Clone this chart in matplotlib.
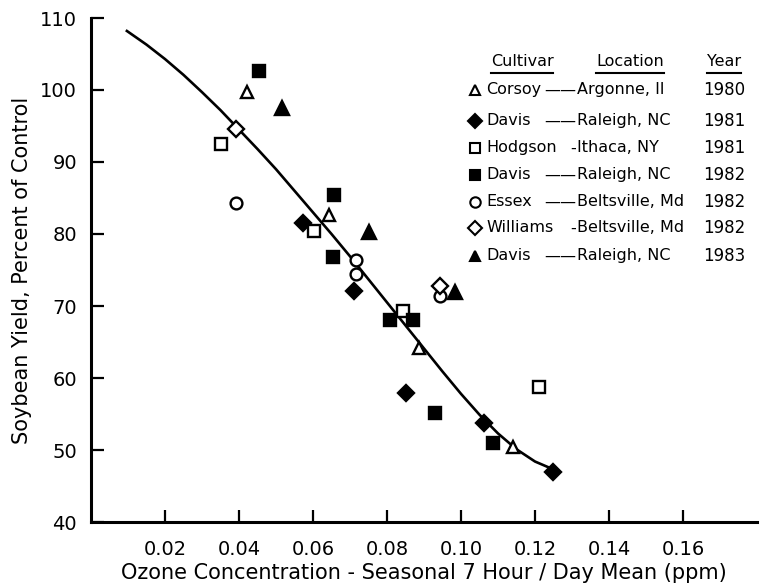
import matplotlib
matplotlib.use("Agg")
import matplotlib.pyplot as plt
from matplotlib.lines import Line2D

plt.rcParams['font.family'] = ['DejaVu Sans']

# data: x = ozone (ppm), y = yield (% of control)
corsoy_x = [0.0422, 0.0643, 0.0886, 0.1140]
corsoy_y = [99.7, 82.6, 64.2, 50.4]
davis81_x = [0.0573, 0.0711, 0.0851, 0.1062, 0.1249]
davis81_y = [81.5, 72.1, 57.9, 53.8, 46.9]
hodgson_x = [0.0351, 0.0603, 0.0843, 0.1210]
hodgson_y = [92.5, 80.4, 69.3, 58.8]
davis82_x = [0.0454, 0.0657, 0.0654, 0.0808, 0.0870, 0.0930, 0.1086]
davis82_y = [102.6, 85.4, 76.8, 68.1, 68.1, 55.1, 51.0]
essex_x = [0.0392, 0.0716, 0.0716, 0.0943]
essex_y = [84.3, 76.4, 74.4, 71.4]
williams_x = [0.0392, 0.0943]
williams_y = [94.6, 72.8]
davis83_x = [0.0516, 0.0751, 0.0984]
davis83_y = [97.5, 80.3, 71.9]

# fitted curve, points
curve_x = [0.0097, 0.015, 0.020, 0.025, 0.030, 0.035, 0.040, 0.045, 0.050, 0.055,
           0.060, 0.065, 0.070, 0.075, 0.080, 0.085, 0.090, 0.095, 0.100, 0.105,
           0.110, 0.115, 0.120, 0.125]
curve_y = [108.2, 106.3, 104.3, 102.1, 99.7, 97.2, 94.5, 91.8, 89.0, 86.0,
           83.0, 80.0, 76.9, 73.7, 70.5, 67.3, 64.1, 60.9, 57.8, 54.9,
           52.3, 50.1, 48.4, 47.3]

legend_rows = [
    ('^', 'white', 'Corsoy', '\u2014\u2014', 'Argonne, Il', '1980'),
    ('D', 'black', 'Davis', '\u2014\u2014', 'Raleigh, NC', '1981'),
    ('s', 'white', 'Hodgson', '-', 'Ithaca, NY', '1981'),
    ('s', 'black', 'Davis', '\u2014\u2014', 'Raleigh, NC', '1982'),
    ('o', 'white', 'Essex', '\u2014\u2014', 'Beltsville, Md', '1982'),
    ('D', 'white', 'Williams', '-', 'Beltsville, Md', '1982'),
    ('^', 'black', 'Davis', '\u2014\u2014', 'Raleigh, NC', '1983'),
]

fig = plt.figure(figsize=(7.6, 5.85), dpi=100)
ax = fig.add_axes([91 / 760, 63 / 585, 666 / 760, 504 / 585])

ax.plot(curve_x, curve_y, color='black', lw=1.9, zorder=2, solid_joinstyle='round')

series = [
    (corsoy_x, corsoy_y, '^', 'white', 9),
    (davis81_x, davis81_y, 'D', 'black', 8),
    (hodgson_x, hodgson_y, 's', 'white', 8),
    (davis82_x, davis82_y, 's', 'black', 8.5),
    (essex_x, essex_y, 'o', 'white', 8.5),
    (williams_x, williams_y, 'D', 'white', 8),
    (davis83_x, davis83_y, '^', 'black', 9.5),
]
for xs, ys, m, fc, ms in series:
    ax.plot(xs, ys, linestyle='none', marker=m, markersize=ms, markerfacecolor=fc,
            markeredgecolor='black', markeredgewidth=1.7, zorder=3)

ax.set_xlim(0, 0.18)
ax.set_ylim(40, 110)
ax.set_xticks([0.02, 0.04, 0.06, 0.08, 0.10, 0.12, 0.14, 0.16])
ax.set_xticklabels(['0.02', '0.04', '0.06', '0.08', '0.10', '0.12', '0.14', '0.16'])
ax.set_yticks(range(40, 111, 10))
ax.tick_params(direction='in', length=9, width=1.6, labelsize=14, pad=10)
ax.tick_params(axis='x', pad=13)
for s in ['top', 'right']:
    ax.spines[s].set_visible(False)
for s in ['left', 'bottom']:
    ax.spines[s].set_linewidth(2.2)

ax.set_xlabel('Ozone Concentration - Seasonal 7 Hour / Day Mean (ppm)', fontsize=15, labelpad=3)
ax.set_ylabel('Soybean Yield, Percent of Control', fontsize=15, labelpad=6)

# table-style legend
def fx(px):
    return (px - 91) / 666

def fy(py):
    return (522 - py) / 504

row_py = [90, 121, 148, 175, 202, 228, 256]
for (m, fc, cult, dash, loc, yr), py in zip(legend_rows, row_py):
    ax.plot([fx(475)], [fy(py)], marker=m, markersize=7.5, markerfacecolor=fc,
            markeredgecolor='black', markeredgewidth=1.5, transform=ax.transAxes,
            clip_on=False, linestyle='none')
    ax.text(fx(486), fy(py), cult, transform=ax.transAxes, fontsize=11.5, va='center', ha='left')
    ax.text(fx(576), fy(py), dash, transform=ax.transAxes, fontsize=11.5, va='center', ha='right')
    ax.text(fx(577), fy(py), loc, transform=ax.transAxes, fontsize=11.5, va='center', ha='left')
    ax.text(fx(724), fy(py), yr, transform=ax.transAxes, fontsize=12, va='center', ha='center')

headers = []
for label, px in [('Cultivar', 522), ('Location', 630), ('Year', 724)]:
    headers.append(ax.text(fx(px), fy(62), label, transform=ax.transAxes, fontsize=11.5,
                           va='center', ha='center'))

fig.canvas.draw()
inv = ax.transAxes.inverted()
for t in headers:
    bb = t.get_window_extent()
    (x0, y0), (x1, y1) = inv.transform([(bb.x0, bb.y0), (bb.x1, bb.y1)])
    ax.add_line(Line2D([x0, x1], [y0 - 0.006, y0 - 0.006], color='black', lw=1.5,
                       transform=ax.transAxes, clip_on=False))

fig.savefig('out.png', dpi=100)
